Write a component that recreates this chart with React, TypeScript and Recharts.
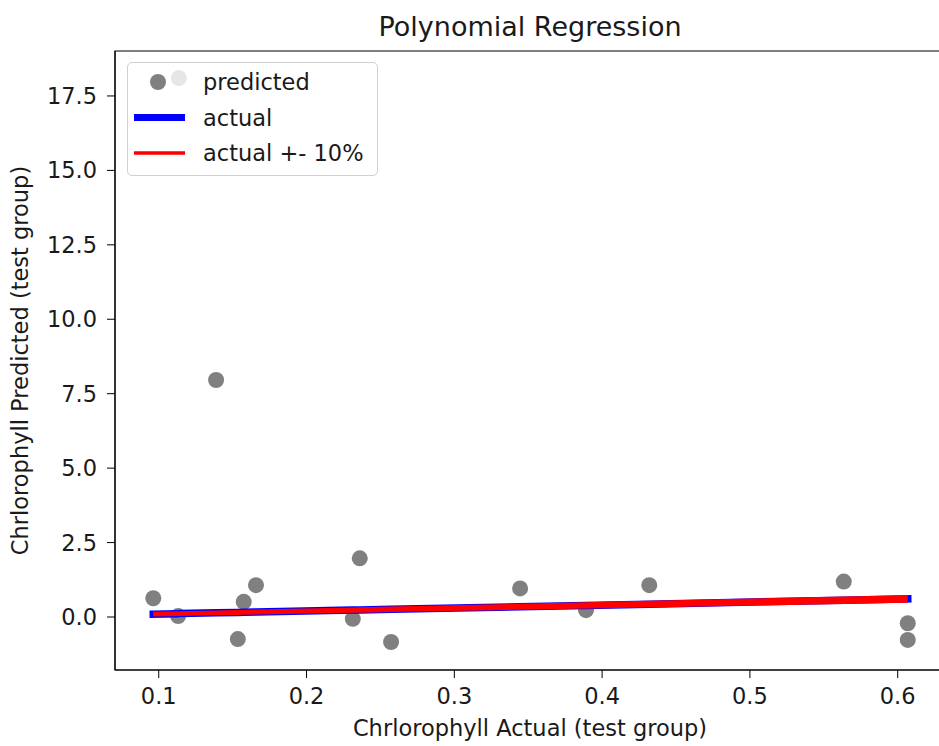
import {
  ScatterChart,
  Scatter,
  XAxis,
  YAxis,
  ReferenceArea,
  Legend,
  Label,
} from "recharts";

// test group: actual chlorophyll (x) and model prediction (y)
const actualX = [
  0.0963, 0.1131, 0.1136, 0.1388, 0.1535, 0.1575, 0.1658, 0.2313, 0.236,
  0.2572, 0.3445, 0.3891, 0.4319, 0.5635, 0.6068, 0.6068,
];
const predictedY = [
  0.63, 0.03, 18.1, 7.96, -0.74, 0.51, 1.07, -0.06, 1.97, -0.84, 0.96, 0.23,
  1.07, 1.19, -0.21, -0.77,
];

const xTicks = [0.1, 0.2, 0.3, 0.4, 0.5, 0.6];
const yTicks = [0, 2.5, 5, 7.5, 10, 12.5, 15, 17.5];

const X_DOMAIN: [number, number] = [0.0704, 0.632];
const Y_DOMAIN: [number, number] = [-1.78, 19.01];

const FONT = "DejaVu Sans";
const TEXT = "#1a1a1a";

const points = actualX.map((x, i) => ({ x, y: predictedY[i] }));
const sortedX = [...actualX].sort((a, b) => a - b);
const actualLine = sortedX.map((x) => ({ x, y: x }));
const upperLine = sortedX.map((x) => ({ x, y: x * 1.1 }));
const lowerLine = sortedX.map((x) => ({ x, y: x * 0.9 }));

const Dot = (props: any) => (
  <circle cx={props.cx} cy={props.cy} r={8} fill="#808080" />
);
const NoDot = () => <g />;

function LegendBox() {
  const row = (y: number, label: string) => (
    <div
      style={{
        position: "absolute",
        left: 75,
        top: y - 14,
        height: 28,
        lineHeight: "28px",
        fontSize: 22.5,
        color: TEXT,
        whiteSpace: "nowrap",
      }}
    >
      {label}
    </div>
  );
  return (
    <div
      style={{
        position: "relative",
        width: 249,
        height: 112,
        border: "1px solid #d0d0d0",
        borderRadius: 5,
        background: "rgba(255,255,255,0.8)",
        fontFamily: FONT,
      }}
    >
      <svg width={249} height={112} style={{ position: "absolute", left: 0, top: 0 }}>
        <circle cx={30} cy={19} r={8} fill="#808080" />
        <line x1={6} x2={57} y1={54.5} y2={54.5} stroke="#0000ff" strokeWidth={7} />
        <line x1={6} x2={57} y1={90} y2={90} stroke="#ff0000" strokeWidth={3.5} />
      </svg>
      {row(19, "predicted")}
      {row(54.5, "actual")}
      {row(90, "actual +- 10%")}
    </div>
  );
}

export default function App() {
  return (
    <div
      style={{
        position: "absolute",
        left: 0,
        top: 0,
        width: 939,
        height: 746,
        overflow: "hidden",
        background: "#fff",
        fontFamily: FONT,
      }}
    >
      <div
        style={{
          position: "absolute",
          left: 0,
          width: 1060,
          top: 11,
          textAlign: "center",
          fontSize: 27,
          color: TEXT,
          lineHeight: "normal",
        }}
      >
        Polynomial Regression
      </div>
      <ScatterChart
        width={947}
        height={746}
        margin={{ top: 51, right: 2, bottom: 0, left: 0 }}
        style={{ fontFamily: FONT }}
      >
        <XAxis
          type="number"
          dataKey="x"
          domain={X_DOMAIN}
          ticks={xTicks}
          allowDataOverflow
          height={76}
          tickSize={8}
          tickMargin={10}
          stroke="#000"
          tick={{ fill: TEXT, fontSize: 22.5 }}
          tickFormatter={(v: number) => v.toFixed(1)}
          label={{
            value: "Chrlorophyll Actual (test group)",
            position: "insideBottom",
            offset: 10,
            fill: TEXT,
            fontSize: 22.5,
          }}
        />
        <YAxis
          type="number"
          dataKey="y"
          domain={Y_DOMAIN}
          ticks={yTicks}
          allowDataOverflow
          width={115}
          tickSize={8}
          tickMargin={10}
          stroke="#000"
          tick={{ fill: TEXT, fontSize: 22.5 }}
          tickFormatter={(v: number) => v.toFixed(1)}
        >
          <Label
            value="Chrlorophyll Predicted (test group)"
            angle={-90}
            position="insideLeft"
            offset={20}
            fill={TEXT}
            fontSize={22.5}
            style={{ textAnchor: "middle" }}
          />
        </YAxis>
        <ReferenceArea
          x1={X_DOMAIN[0]}
          x2={X_DOMAIN[1]}
          y1={Y_DOMAIN[0]}
          y2={Y_DOMAIN[1]}
          fill="none"
          stroke="#000"
          strokeWidth={1.2}
          ifOverflow="visible"
        />
        <Scatter
          name="predicted"
          data={points}
          shape={Dot}
          isAnimationActive={false}
        />
        <Scatter
          name="actual"
          data={actualLine}
          shape={NoDot}
          line={{ stroke: "#0000ff", strokeWidth: 7.5, strokeLinecap: "square" }}
          lineType="joint"
          isAnimationActive={false}
        />
        <Scatter
          name="actual +10%"
          data={upperLine}
          shape={NoDot}
          line={{ stroke: "#ff0000", strokeWidth: 4 }}
          lineType="joint"
          isAnimationActive={false}
        />
        <Scatter
          name="actual -10%"
          data={lowerLine}
          shape={NoDot}
          line={{ stroke: "#ff0000", strokeWidth: 4 }}
          lineType="joint"
          isAnimationActive={false}
        />
        <Legend
          layout="horizontal"
          verticalAlign="middle"
          align="center"
          wrapperStyle={{ position: "absolute", left: 127, top: 62, width: 251 }}
          content={() => <LegendBox />}
        />
      </ScatterChart>
    </div>
  );
}
